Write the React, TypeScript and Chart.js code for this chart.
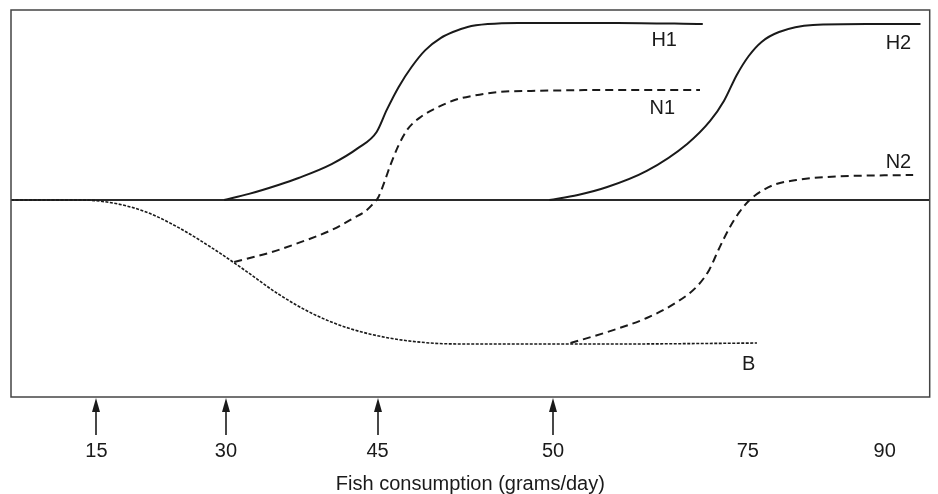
import React, { useEffect, useRef } from "react";
import { Chart, registerables } from "chart.js";

Chart.register(...registerables);

// X axis: relative exposure position (0-100 across the plot), ticks labelled in grams/day
const tickPositions = [9.3, 23.4, 39.9, 59.0, 80.2, 95.1];
const tickLabels = ["15", "30", "45", "50", "75", "90"];
const tickHasArrow = [true, true, true, true, false, false];

// H1 (solid)
const h1X = [23.2, 25.9, 29.1, 31.3, 34.9, 37.8, 39.8, 40.9, 42.2, 43.6, 45.1, 46.8, 48.1, 49.7, 51.9, 55.2, 66.0, 75.3];
const h1Y = [0, 0.032, 0.079, 0.116, 0.189, 0.274, 0.358, 0.474, 0.595, 0.7, 0.789, 0.853, 0.884, 0.911, 0.926, 0.932, 0.932, 0.926];

// N1 (dashed)
const n1X = [24.3, 28.4, 31.3, 34.9, 37.3, 38.6, 39.3, 40.0, 40.6, 41.3, 42.2, 43.2, 44.6, 46.5, 48.3, 50.1, 53.0, 56.6, 66.0, 75.0];
const n1Y = [-0.326, -0.274, -0.226, -0.158, -0.095, -0.058, -0.026, 0.016, 0.089, 0.184, 0.289, 0.374, 0.437, 0.489, 0.526, 0.547, 0.568, 0.574, 0.579, 0.579];

// B (dotted)
const bX = [0, 7.5, 11.1, 14.7, 18.3, 21.9, 25.4, 29.1, 32.9, 36.7, 41.1, 45.7, 49.7, 66.0, 81.2];
const bY = [0, 0, -0.016, -0.063, -0.147, -0.253, -0.368, -0.495, -0.6, -0.674, -0.726, -0.753, -0.758, -0.758, -0.753];

// H2 (solid)
const h2X = [58.6, 61.7, 64.9, 69.2, 73.6, 76.1, 77.6, 79.0, 80.3, 81.7, 83.6, 87.3, 93.1, 99.0];
const h2Y = [0, 0.026, 0.068, 0.153, 0.295, 0.416, 0.521, 0.658, 0.758, 0.832, 0.884, 0.921, 0.926, 0.926];

// N2 (dashed)
const n2X = [60.9, 64.9, 69.2, 72.5, 74.7, 76.0, 77.0, 78.2, 79.3, 80.4, 81.7, 83.3, 85.5, 88.7, 98.2];
const n2Y = [-0.753, -0.695, -0.621, -0.537, -0.453, -0.368, -0.263, -0.147, -0.063, 0, 0.047, 0.084, 0.105, 0.121, 0.132];

// Curve labels
const curveNames = ["H1", "N1", "H2", "N2", "B"];
const curveLabelX = [71.1, 70.9, 96.6, 96.6, 80.3];
const curveLabelY = [0.837, 0.484, 0.826, 0.2, -0.868];

const FONT = "'Liberation Sans', Arial, Helvetica, sans-serif";
const INK = "#1a1a1a";

const toPoints = (xs: number[], ys: number[]) => xs.map((x, i) => ({ x, y: ys[i] }));

const decorPlugin = {
  id: "decor",
  beforeDatasetsDraw(chart: any) {
    const { ctx, chartArea, scales } = chart;
    const y0 = scales.y.getPixelForValue(0);
    ctx.save();
    ctx.strokeStyle = "#2a2a2a";
    ctx.lineWidth = 2;
    ctx.beginPath();
    ctx.moveTo(chartArea.left, y0);
    ctx.lineTo(chartArea.right, y0);
    ctx.stroke();
    ctx.restore();
  },
  afterDraw(chart: any) {
    const { ctx, chartArea, scales } = chart;
    ctx.save();
    // frame
    ctx.strokeStyle = "#444";
    ctx.lineWidth = 1.5;
    ctx.strokeRect(chartArea.left, chartArea.top, chartArea.right - chartArea.left, chartArea.bottom - chartArea.top);
    // arrows
    ctx.fillStyle = INK;
    ctx.strokeStyle = INK;
    tickPositions.forEach((v, i) => {
      if (!tickHasArrow[i]) return;
      const px = Math.round(scales.x.getPixelForValue(v));
      const top = chartArea.bottom + 1;
      ctx.lineWidth = 1.6;
      ctx.beginPath();
      ctx.moveTo(px, top + 10);
      ctx.lineTo(px, top + 37);
      ctx.stroke();
      ctx.beginPath();
      ctx.moveTo(px, top);
      ctx.lineTo(px - 4, top + 14);
      ctx.lineTo(px + 4, top + 14);
      ctx.closePath();
      ctx.fill();
    });
    // curve labels
    ctx.fillStyle = INK;
    ctx.font = `20px ${FONT}`;
    ctx.textAlign = "center";
    ctx.textBaseline = "middle";
    curveNames.forEach((name, i) => {
      ctx.fillText(name, scales.x.getPixelForValue(curveLabelX[i]), scales.y.getPixelForValue(curveLabelY[i]));
    });
    ctx.restore();
  },
};

export default function App() {
  const ref = useRef<HTMLCanvasElement | null>(null);
  useEffect(() => {
    if (!ref.current) return;
    const common = { pointRadius: 0, borderColor: INK, fill: false, cubicInterpolationMode: "monotone" as const };
    const chart = new Chart(ref.current, {
      type: "line",
      data: {
        datasets: [
          { ...common, label: "H1", data: toPoints(h1X, h1Y), borderWidth: 2 },
          { ...common, label: "N1", data: toPoints(n1X, n1Y), borderWidth: 2, borderDash: [8, 5] },
          { ...common, label: "B", data: toPoints(bX, bY), borderWidth: 1.6, borderDash: [3, 1.5] },
          { ...common, label: "H2", data: toPoints(h2X, h2Y), borderWidth: 2 },
          { ...common, label: "N2", data: toPoints(n2X, n2Y), borderWidth: 2, borderDash: [8, 5] },
        ],
      },
      options: {
        responsive: false,
        animation: false,
        layout: { padding: { left: 11, right: 4, top: 10, bottom: 0 } },
        plugins: { legend: { display: false }, tooltip: { enabled: false } },
        scales: {
          x: {
            type: "linear",
            min: 0,
            max: 100,
            border: { display: false },
            grid: { display: false, drawTicks: false },
            afterBuildTicks: (scale: any) => {
              scale.ticks = tickPositions.map((v) => ({ value: v }));
            },
            afterFit: (scale: any) => {
              scale.height = 97;
            },
            ticks: {
              autoSkip: false,
              maxRotation: 0,
              padding: 42,
              color: INK,
              font: { family: FONT, size: 20 },
              callback: (_v: any, i: number) => tickLabels[i],
            },
            title: {
              display: true,
              text: "Fish consumption (grams/day)",
              color: INK,
              padding: { top: 0, bottom: 0 },
              font: { family: FONT, size: 20, lineHeight: 1 },
            },
          },
          y: { type: "linear", display: false, min: -1.037, max: 1 },
        },
      },
      plugins: [decorPlugin],
    });
    return () => chart.destroy();
  }, []);
  return (
    <div style={{ position: "fixed", left: 0, top: 0, width: 938, height: 494, background: "#fff" }}>
      <canvas ref={ref} width={938} height={494} style={{ display: "block" }} />
    </div>
  );
}
